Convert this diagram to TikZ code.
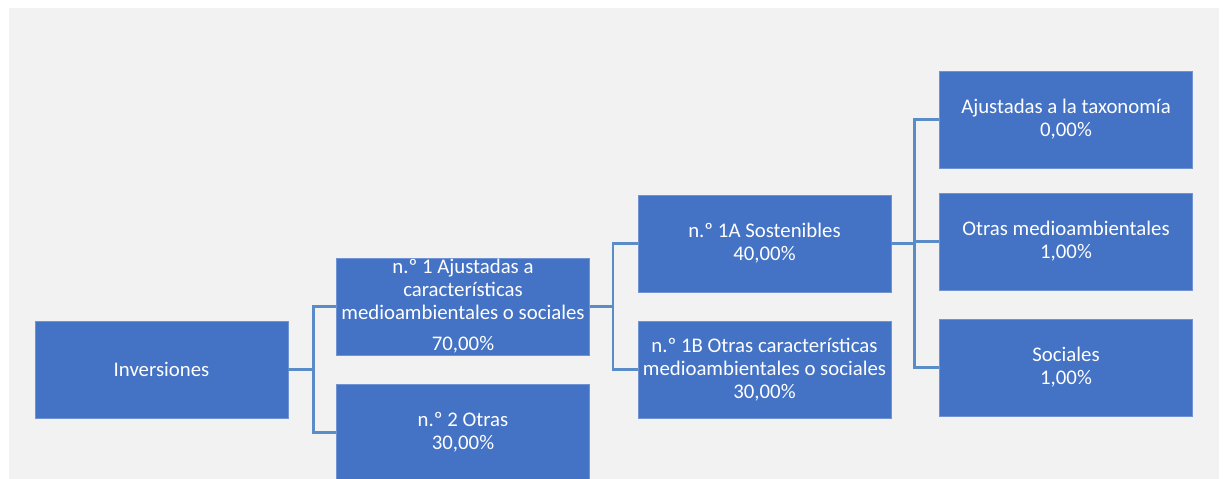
\documentclass[tikz,border=0pt]{standalone}
\usepackage{fontspec}
\setmainfont{Carlito}
\usepackage{tikz}
\usetikzlibrary{positioning,calc}
\usepackage{xcolor}
\definecolor{boxblue}{HTML}{4472C4}
\definecolor{edgeblue}{HTML}{6F93D3}
\definecolor{linkblue}{HTML}{5A8DC8}
\definecolor{pagegray}{HTML}{F2F2F2}

\begin{document}
\begin{tikzpicture}[
    x=1pt, y=-1pt,
    box/.style={draw=edgeblue, line width=0.8pt, fill=boxblue, text=white,
                minimum width=253pt, minimum height=97pt, inner sep=0pt,
                font=\fontsize{20.8}{23}\selectfont, align=center},
    link/.style={draw=linkblue, line width=2.3pt}
]
\useasboundingbox (0,0) rectangle (1224,479);
\fill[pagegray] (9,8) rectangle (1219,479);

% level 0
\node[box] (inv) at (161.5,369.5) {Inversiones};
% level 1
\node[box] (n1) at (463,306.5) {n.º 1 Ajustadas a\\características\\medioambientales o sociales\\[8pt]70,00\%};
\node[box] (n2) at (463,432.5) {n.º 2 Otras\\30,00\%};
% level 2
\node[box] (n1a) at (764.5,243.5) {n.º 1A Sostenibles\\40,00\%};
\node[box] (n1b) at (764.5,369.5) {n.º 1B Otras características\\medioambientales o sociales\\30,00\%};
% level 3
\node[box] (tax) at (1066,119.5) {Ajustadas a la taxonomía\\0,00\%};
\node[box] (oma) at (1066,241.5) {Otras medioambientales\\1,00\%};
\node[box] (soc) at (1066,367.5) {Sociales\\1,00\%};

\draw[link] (inv.east) -- ++(25,0) |- (n1.west);
\draw[link] (inv.east) -- ++(25,0) |- (n2.west);
\draw[link] (n1.east) -- ++(23,0) |- (n1a.west);
\draw[link] (n1.east) -- ++(23,0) |- (n1b.west);
\draw[link] (n1a.east) -- ++(23,0) |- (tax.west);
\draw[link] (n1a.east) -- ++(23,0) |- (oma.west);
\draw[link] (n1a.east) -- ++(23,0) |- (soc.west);
\end{tikzpicture}
\end{document}
